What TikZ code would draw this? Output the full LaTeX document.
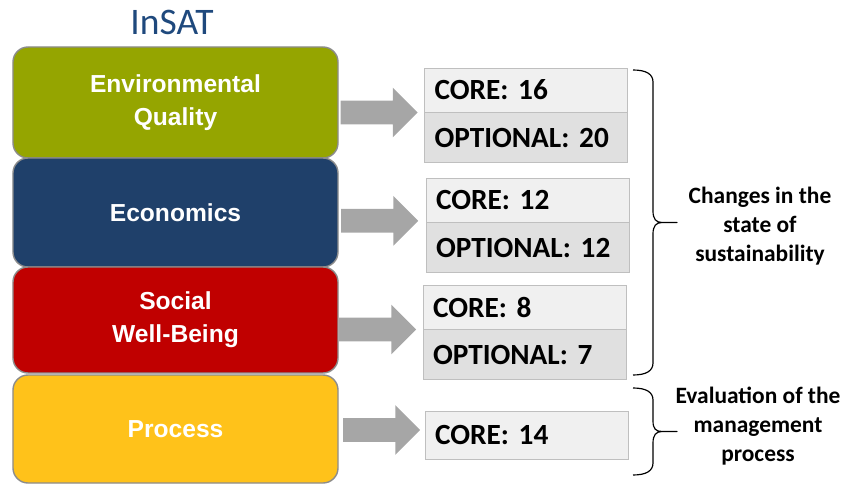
\documentclass[tikz,border=0pt]{standalone}
\usepackage{fontspec}
\setmainfont{Carlito}
\newfontfamily\labelfont{Liberation Sans}
\usepackage{tikz}
\usetikzlibrary{shapes.arrows, positioning}
\usepackage{xcolor}
\definecolor{insatblue}{HTML}{1F497D}
\definecolor{envgreen}{HTML}{95A500}
\definecolor{ecoblue}{HTML}{1F406A}
\definecolor{socred}{HTML}{C00000}
\definecolor{procyellow}{HTML}{FFC21A}
\definecolor{arrowgray}{HTML}{A6A6A6}

\tikzset{
    pillar/.style={draw=black!45, line width=1.2pt, rounded corners=0.45cm,
        minimum width=9.75cm, text=white, align=center,
        font=\labelfont\bfseries\fontsize{21}{28}\selectfont},
    corerow/.style={draw=black!25, line width=0.8pt, fill=black!6,
        minimum width=6.09cm, minimum height=1.32cm, inner xsep=0.3cm,
        text width=5.49cm, align=left,
        font=\bfseries\fontsize{25}{28}\selectfont\frenchspacing},
    optrow/.style={corerow, fill=black!12, minimum height=1.5cm},
    blockarrow/.style={single arrow, fill=arrowgray, draw=none, anchor=tip,
        inner sep=0pt, inner ysep=0.35cm, minimum height=2.31cm,
        single arrow head extend=0.39cm},
    bracket/.style={line width=1pt, line join=round},
    remark/.style={align=center, font=\bfseries\fontsize{20}{25}\selectfont}
}

\begin{document}
\begin{tikzpicture}[x=0.03cm, y=-0.03cm]
    \useasboundingbox (0,0) rectangle (847,484);

    % title
    \node[text=insatblue, font=\fontsize{32}{36}\selectfont] (title) at (172,22) {InSAT};

    % the four pillars
    \node[pillar, fill=envgreen, minimum height=3.33cm] (env) at (175.5,102.5) {Environmental\\Quality};
    \node[pillar, fill=ecoblue, minimum height=3.27cm] (eco) at (175.5,212.5) {Economics};
    \node[pillar, fill=socred, minimum height=3.18cm] (soc) at (175.5,320) {Social\\Well-Being};
    \node[pillar, fill=procyellow, minimum height=3.24cm] (proc) at (175.5,429) {Process};

    % indicator counts
    \node[corerow] (envcore) at (526,90) {CORE:\ 16};
    \node[optrow, below=0pt of envcore] (envopt) {OPTIONAL:\ 20};
    \node[corerow] (ecocore) at (527.5,200) {CORE:\ 12};
    \node[optrow, below=0pt of ecocore] (ecoopt) {OPTIONAL:\ 12};
    \node[corerow] (soccore) at (524.5,307) {CORE:\ 8};
    \node[optrow, below=0pt of soccore] (socopt) {OPTIONAL:\ 7};
    \node[corerow, minimum height=1.44cm] (proccore) at (526.5,435) {CORE:\ 14};

    % block arrows
    \node[blockarrow] (envarrow) at ([xshift=-0.18cm]envcore.south west) {};
    \node[blockarrow] (ecoarrow) at ([xshift=-0.21cm, yshift=0.05cm]ecocore.south west) {};
    \node[blockarrow] (socarrow) at ([xshift=-0.18cm]soccore.south west) {};
    \node[blockarrow] (procarrow) at ([xshift=-0.12cm, yshift=0.15cm]proccore.west) {};

    % braces
    \coordinate (sustop) at (633,70);
    \coordinate (susbot) at (633,375);
    \coordinate (mgttop) at (633,388);
    \coordinate (mgtbot) at (633,475);
    \draw[bracket] (sustop) .. controls (646,70) and (653,74) .. (653,82) -- (653,211)
        .. controls (653,219) and (656,222.5) .. (662,222.5) -- (677,222.5) -- (662,222.5)
        .. controls (656,222.5) and (653,226) .. (653,234) -- (653,363)
        .. controls (653,371) and (646,375) .. (susbot);
    \draw[bracket] (mgttop) .. controls (646,388) and (653,392) .. (653,400) -- (653,421)
        .. controls (653,429) and (656,431.5) .. (662,431.5) -- (677,431.5) -- (662,431.5)
        .. controls (656,431.5) and (653,435) .. (653,443) -- (653,463)
        .. controls (653,471) and (646,475) .. (mgtbot);

    \node[remark] (state) at (760,226) {Changes in the\\state of\\sustainability};
    \node[remark] (mgt) at (758,426) {Evaluation of the\\management\\process};
\end{tikzpicture}
\end{document}
